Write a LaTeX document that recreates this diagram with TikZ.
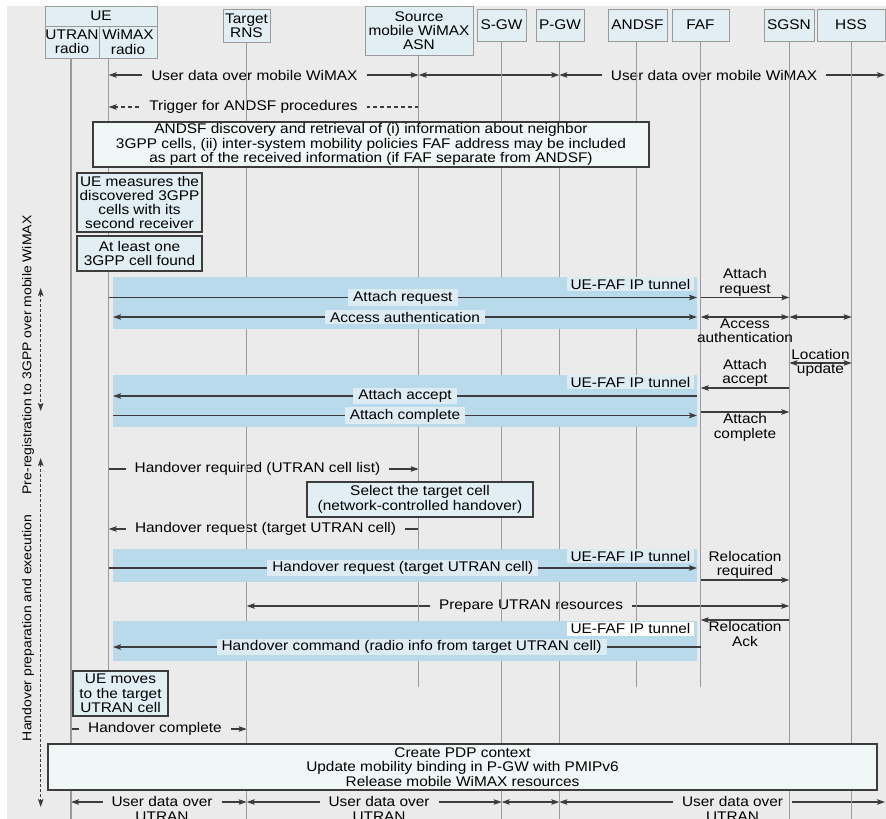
\documentclass[tikz,border=0pt]{standalone}
\usepackage[dvipsnames]{xcolor}
\usepackage{tikz}
\usepackage{fontspec}
\setmainfont[FakeStretch=1.1]{Liberation Sans}
\usetikzlibrary{arrows.meta}
\definecolor{bggray}{HTML}{EBEBEB}
\definecolor{headfill}{HTML}{E1EEF4}
\definecolor{notefill}{HTML}{EFF7F7}
\definecolor{tunnelfill}{HTML}{B9DAEA}
\definecolor{tunnellbl}{HTML}{DDECF3}
\definecolor{lifegray}{HTML}{9A9A9A}
\definecolor{msggray}{HTML}{3C3C3C}
\newcommand{\msgsize}{\fontsize{14}{14.3}\selectfont}
\newcommand{\sidesize}{\fontsize{12.7}{13}\selectfont}

\begin{document}
\begin{tikzpicture}[x=1pt,y=-1pt,font=\msgsize,>={Stealth[length=8pt,width=5.5pt,inset=1.5pt]}]
	\tikzstyle{head}=[draw=lifegray,fill=headfill,line width=1pt,inner sep=0pt,align=center]
	\tikzstyle{note}=[draw=msggray,fill=headfill,line width=1.1pt,inner sep=0pt,align=center]
	\tikzstyle{wide}=[draw=msggray,fill=notefill,line width=1.1pt,inner sep=0pt,align=center]
	\tikzstyle{life}=[draw=lifegray,line width=1.2pt]
	\tikzstyle{msg}=[draw=msggray,line width=1.1pt]
	\tikzstyle{lbl}=[fill=bggray,inner xsep=9pt,inner ysep=1pt,align=center]
	\tikzstyle{blbl}=[fill=tunnellbl,inner xsep=5pt,inner ysep=1.5pt]
	\tikzstyle{side}=[align=center,inner sep=1pt]
	\tikzstyle{tun}=[minimum width=127pt,minimum height=14pt,inner sep=0pt]
	\useasboundingbox (0,0) rectangle (886,819);
	\fill[bggray] (7,6) rectangle (886,819);
	\coordinate (lU) at (71,58);
	\coordinate (lW) at (108.7,58);
	\coordinate (lR) at (246.7,42.5);
	\coordinate (lA) at (418.7,55);
	\coordinate (lS) at (501.7,41);
	\coordinate (lP) at (559.3,41);
	\coordinate (lD) at (636.7,41);
	\coordinate (lF) at (700.7,41);
	\coordinate (lG) at (789.3,41);
	\coordinate (lH) at (851.7,41);
	\coordinate (bL) at (113,0);
	\coordinate (bR) at (697,0);
	\coordinate (eR) at (885,0);
	\foreach \n/\y in {ud/75,trg/107,arq/297.5,aau/317,loc/363,aac/388,bac/396,bco/415.5,aco/412,hrq/469,hrs/529,hbr/568,rrq/580,prep/606,rak/620,hcm/647,hco/729,udu/802,endW/671,endA/687,bot/819}
		\coordinate (\n) at (0,\y);
	\draw[<->,msg] (lW |- ud) -- node[lbl,pos=0.47](t1){User data over mobile WiMAX} (lA |- ud);
	\draw[<->,msg] (lA |- ud) -- (lP |- ud);
	\draw[<->,msg] (lP |- ud) -- node[lbl,pos=0.475](t2){User data over mobile WiMAX} (eR |- ud);
	\draw[->,msg,dash pattern=on 4pt off 3pt] (lA |- trg) -- node[lbl,pos=0.533](t3){Trigger for ANDSF procedures} (lW |- trg);
	\draw[->,msg] (lW |- hrq) -- node[lbl,pos=0.48](t4){Handover required (UTRAN cell list)} (lA |- hrq);
	\draw[->,msg] (lA |- hrs) -- node[lbl,pos=0.494](t5){Handover request (target UTRAN cell)} (lW |- hrs);
	\draw[<->,msg] (lR |- prep) -- node[lbl,pos=0.524](t6){Prepare UTRAN resources} (lG |- prep);
	\draw[->,msg] (lU |- hco) -- node[lbl,pos=0.478](t7){Handover complete} (lR |- hco);
	\draw[<->,msg] (lU |- udu) -- node[lbl,pos=0.518,yshift=-7pt](t8){User data over\\UTRAN} (lR |- udu);
	\draw[<->,msg] (lR |- udu) -- node[lbl,pos=0.519,yshift=-7pt](t9){User data over\\UTRAN} (lS |- udu);
	\draw[<->,msg] (lS |- udu) -- (lP |- udu);
	\draw[<->,msg] (lP |- udu) -- node[lbl,pos=0.532,yshift=-7pt](t10){User data over\\UTRAN} (eR |- udu);
	\foreach \l in {lU,lR,lS,lP,lG,lH}
		\draw[life] (\l) -- (\l |- bot);
	\draw[life] (lW) -- (lW |- endW);
	\foreach \l in {lA,lD,lF}
		\draw[life] (\l) -- (\l |- endA);
	\node[head,minimum width=112pt,minimum height=20pt] (ue) at (101,16) {UE};
	\node[head,minimum width=54pt,minimum height=32pt] (utran) at (72,42) {UTRAN\\radio};
	\node[head,minimum width=58pt,minimum height=32pt] (wimax) at (128,42) {WiMAX\\radio};
	\node[head,minimum width=47pt,minimum height=33.5pt] (rns) at (246.5,25.75) {Target\\RNS};
	\node[head,minimum width=108pt,minimum height=49pt] (asn) at (419,30.5) {Source\\mobile WiMAX\\ASN};
	\node[head,minimum width=49pt,minimum height=32pt] (sgw) at (501.5,25) {S-GW};
	\node[head,minimum width=48pt,minimum height=32pt] (pgw) at (560,25) {P-GW};
	\node[head,minimum width=59pt,minimum height=32pt] (andsf) at (637.5,25) {ANDSF};
	\node[head,minimum width=57pt,minimum height=32pt] (faf) at (700.5,25) {FAF};
	\node[head,minimum width=50pt,minimum height=32pt] (sgsn) at (789,25) {SGSN};
	\node[head,minimum width=68pt,minimum height=32pt] (hss) at (851,25) {HSS};
	\node[wide,minimum width=556pt,minimum height=45pt] (disc) at (371,144.5) {ANDSF discovery and retrieval of (i) information about neighbor\\3GPP cells, (ii) inter-system mobility policies FAF address may be included\\as part of the received information (if FAF separate from ANDSF)};
	\node[note,minimum width=125pt,minimum height=59pt] (meas) at (139.5,202.5) {UE measures the\\discovered 3GPP\\cells with its\\second receiver};
	\node[note,minimum width=125pt,minimum height=35pt] (found) at (139.5,253.5) {At least one\\3GPP cell found};
	\node[note,minimum width=226pt,minimum height=35pt] (sel) at (420,499.5) {Select the target cell\\(network-controlled handover)};
	\node[note,minimum width=95pt,minimum height=45pt] (move) at (120.5,693.5) {UE moves\\to the target\\UTRAN cell};
	\node[wide,minimum width=829pt,minimum height=46pt] (pdp) at (462.5,767) {Create PDP context\\Update mobility binding in P-GW with PMIPv6\\Release mobile WiMAX resources};
	\fill[tunnelfill] (113,277) rectangle (697,329);
	\fill[tunnelfill] (113,375) rectangle (697,427);
	\fill[tunnelfill] (113,549) rectangle (697,582);
	\fill[tunnelfill] (113,621) rectangle (697,661);
	\foreach \y/\c [count=\i] in {284/tunnellbl,382/tunnellbl,556/tunnellbl,628.5/white}
		\node[tun,fill=\c] (tun\i) at (630.5,\y) {UE-FAF IP tunnel};
	\draw[->,msg] (lW |- arq) -- node[blbl](b1){Attach request} (bR |- arq);
	\draw[<->,msg] (bL |- aau) -- node[blbl](b2){Access authentication} (bR |- aau);
	\draw[->,msg] (bR |- bac) -- node[blbl](b3){Attach accept} (bL |- bac);
	\draw[->,msg] (bL |- bco) -- node[blbl](b4){Attach complete} (bR |- bco);
	\draw[->,msg] (lW |- hbr) -- node[blbl](b5){Handover request (target UTRAN cell)} (bR |- hbr);
	\draw[->,msg] (lF |- hcm) -- node[blbl,pos=0.492](b6){Handover command (radio info from target UTRAN cell)} (bL |- hcm);
	\draw[->,msg] (lF |- arq) -- node[side,above](r1){Attach\\request} (lG |- arq);
	\draw[<->,msg] (lF |- aau) -- node[side,below](r2){Access\\authentication} (lG |- aau);
	\draw[<->,msg] (lG |- aau) -- (lH |- aau);
	\draw[<->,msg] (lG |- loc) -- node[side,inner sep=0pt](r3){Location\\update} (lH |- loc);
	\draw[->,msg] (lG |- aac) -- node[side,above](r4){Attach\\accept} (lF |- aac);
	\draw[->,msg] (lF |- aco) -- node[side,below](r5){Attach\\complete} (lG |- aco);
	\draw[->,msg] (lF |- rrq) -- node[side,above](r6){Relocation\\required} (lG |- rrq);
	\draw[->,msg] (lG |- rak) -- node[side,below](r7){Relocation\\Ack} (lF |- rak);
	\node[rotate=90,font=\sidesize] (preg) at (28,355) {Pre-registration to 3GPP over mobile WiMAX};
	\node[rotate=90,font=\sidesize] (hoex) at (28,628) {Handover preparation and execution};
	\coordinate (pa1) at (40.7,288);
	\coordinate (pa2) at (40.7,411);
	\coordinate (pb1) at (40.7,458);
	\coordinate (pb2) at (40.7,807);
	\draw[<->,msg,line width=0.9pt,dash pattern=on 3pt off 2pt] (pa1) -- (pa2);
	\draw[<->,msg,line width=0.9pt,dash pattern=on 3pt off 2pt] (pb1) -- (pb2);
\end{tikzpicture}
\end{document}
